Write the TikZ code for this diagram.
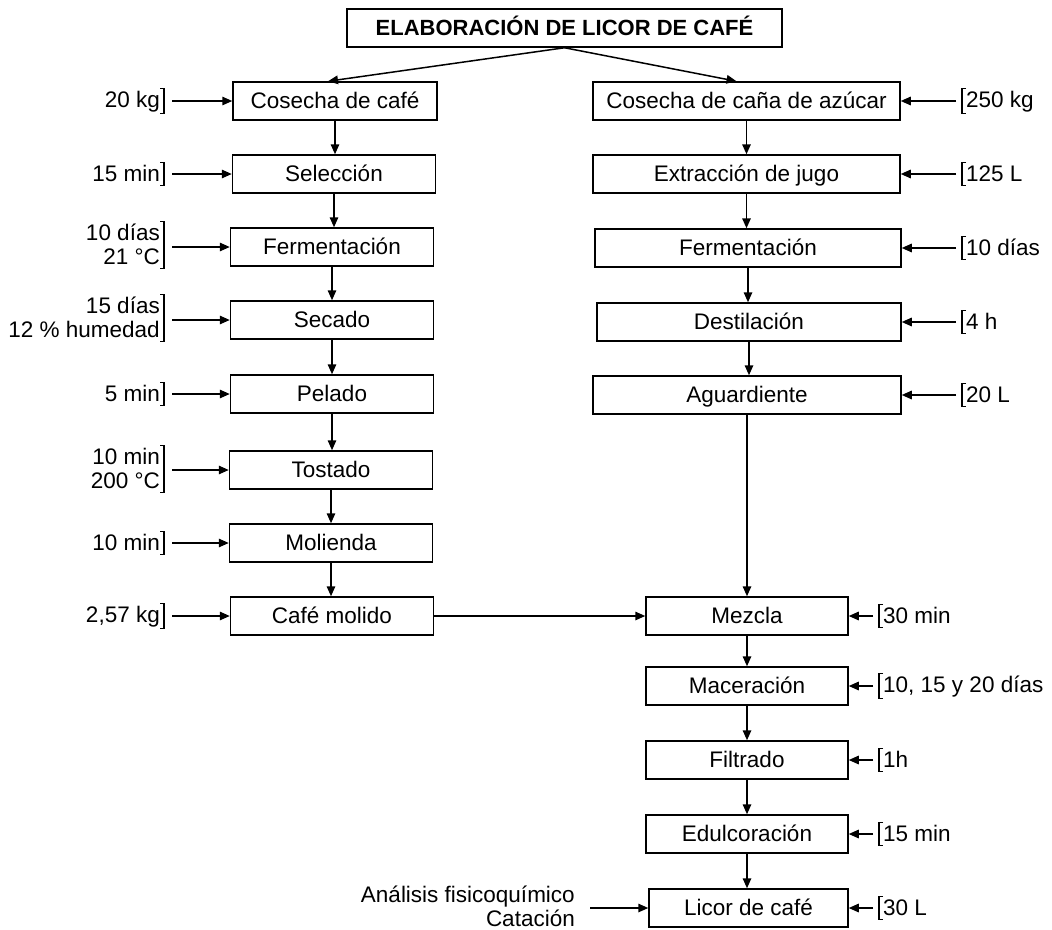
\documentclass[tikz,border=0pt]{standalone}
\usepackage{fontspec}
\setmainfont{Liberation Sans}
\usetikzlibrary{arrows.meta}
\newcommand{\fs}{\fontsize{22.5}{24}\selectfont}
\newcommand{\lst}{\rule[-3pt]{0pt}{20.5pt}}
\tikzset{
  box/.style={draw, line width=1.5pt, minimum height=38pt, inner sep=0pt, text height=16pt, text depth=1pt, font=\fs},
  arr/.style={-{Triangle[length=10pt,width=8.5pt]}, line width=1.5pt},
  brk/.style={line width=1.2pt},
  llab/.style={anchor=east, align=right, font=\fs, inner xsep=4pt, inner ysep=1pt},
  rlab/.style={anchor=west, align=left, font=\fs, inner xsep=4pt, inner ysep=1pt},
}
\begin{document}
\begin{tikzpicture}[x=1pt,y=-1pt]
\useasboundingbox (0,0) rectangle (1052,929);
% title
\node[box, minimum width=435pt, font=\fontsize{22}{24}\selectfont\bfseries] (t) at (564.5,28) {ELABORACIÓN DE LICOR DE CAFÉ};
% left column
\node[box, minimum width=204pt] (c1) at (335,101) {Cosecha de café};
\node[box, minimum width=203pt] (c2) at (334,174) {Selección};
\node[box, minimum width=203pt] (c3) at (332,247) {Fermentación};
\node[box, minimum width=203pt] (c4) at (332,320) {Secado};
\node[box, minimum width=203pt] (c5) at (332,394) {Pelado};
\node[box, minimum width=203pt] (c6) at (331,470) {Tostado};
\node[box, minimum width=203pt] (c7) at (331,543) {Molienda};
\node[box, minimum width=203pt] (c8) at (332,616) {Café molido};
% right column
\node[box, minimum width=307pt] (r1) at (746.5,101) {Cosecha de caña de azúcar};
\node[box, minimum width=307pt] (r2) at (746.5,174) {Extracción de jugo};
\node[box, minimum width=306pt] (r3) at (748,248) {Fermentación};
\node[box, minimum width=304pt] (r4) at (749,322) {Destilación};
\node[box, minimum width=308pt] (r5) at (747,395) {Aguardiente};
\node[box, minimum width=202pt] (m1) at (747,616) {Mezcla};
\node[box, minimum width=202pt] (m2) at (747,686) {Maceración};
\node[box, minimum width=202pt] (m3) at (747,760) {Filtrado};
\node[box, minimum width=202pt] (m4) at (747,834) {Edulcoración};
\node[box, minimum width=199pt] (m5) at (748.5,908) {Licor de café};
% title arrows
\draw[arr] (t.south) -- ([xshift=-7pt]c1.north);
\draw[arr] (t.south) -- ([xshift=-10pt]r1.north);
% vertical arrows
\foreach \a/\b in {c1/c2,c2/c3,c3/c4,c4/c5,c5/c6,c6/c7,c7/c8,r1/r2,r2/r3,r3/r4,r4/r5,m1/m2,m2/m3,m3/m4,m4/m5}
  \draw[arr] (\a.south) -- (\a.south |- \b.north);
\draw[arr] (r5.south) -- (r5.south |- m1.north);
\draw[arr] (c8.east) -- (m1.west);
% left labels
\node[llab] (l1) at (164,101) {\lst 20 kg};
\node[llab] (l2) at (164,174) {\lst 15 min};
\node[llab] (l3) at (164,245) {\lst 10 días\\\lst 21 °C};
\node[llab] (l4) at (164,318) {\lst 15 días\\\lst 12 \% humedad};
\node[llab] (l5) at (164,394) {\lst 5 min};
\node[llab] (l6) at (164,469) {\lst 10 min\\\lst 200 °C};
\node[llab] (l7) at (164,543) {\lst 10 min};
\node[llab] (l8) at (164,616) {\lst 2,57 kg};
\foreach \l/\b in {l1/c1,l2/c2,l3/c3,l4/c4,l5/c5,l6/c6,l7/c7,l8/c8}{
  \draw[brk] ([xshift=-4pt]\l.north east) -- (\l.north east) -- (\l.south east) -- ([xshift=-4pt]\l.south east);
  \draw[arr] ([xshift=8pt]\l.east |- \b.west) -- (\b.west);
}
% right labels
\node[rlab] (s1) at (962,101) {\lst 250 kg};
\node[rlab] (s2) at (962,174) {\lst 125 L};
\node[rlab] (s3) at (962,248) {\lst 10 días};
\node[rlab] (s4) at (962,322) {\lst 4 h};
\node[rlab] (s5) at (962,395) {\lst 20 L};
\node[rlab] (s6) at (879,616) {\lst 30 min};
\node[rlab] (s7) at (879,686) {\lst 10, 15 y 20 días};
\node[rlab] (s8) at (879,760) {\lst 1h};
\node[rlab] (s9) at (879,834) {\lst 15 min};
\node[rlab] (s10) at (879,908) {\lst 30 L};
\foreach \l/\b in {s1/r1,s2/r2,s3/r3,s4/r4,s5/r5,s6/m1,s7/m2,s8/m3,s9/m4,s10/m5}{
  \draw[brk] ([xshift=4pt]\l.north west) -- (\l.north west) -- (\l.south west) -- ([xshift=4pt]\l.south west);
  \draw[arr] ([xshift=-6pt]\l.west |- \b.east) -- (\b.east);
}
% analysis
\node[llab] (an) at (579,906) {Análisis fisicoquímico\\Catación};
\draw[arr] ([xshift=11pt]an.east |- m5.west) -- (m5.west);
\end{tikzpicture}
\end{document}
